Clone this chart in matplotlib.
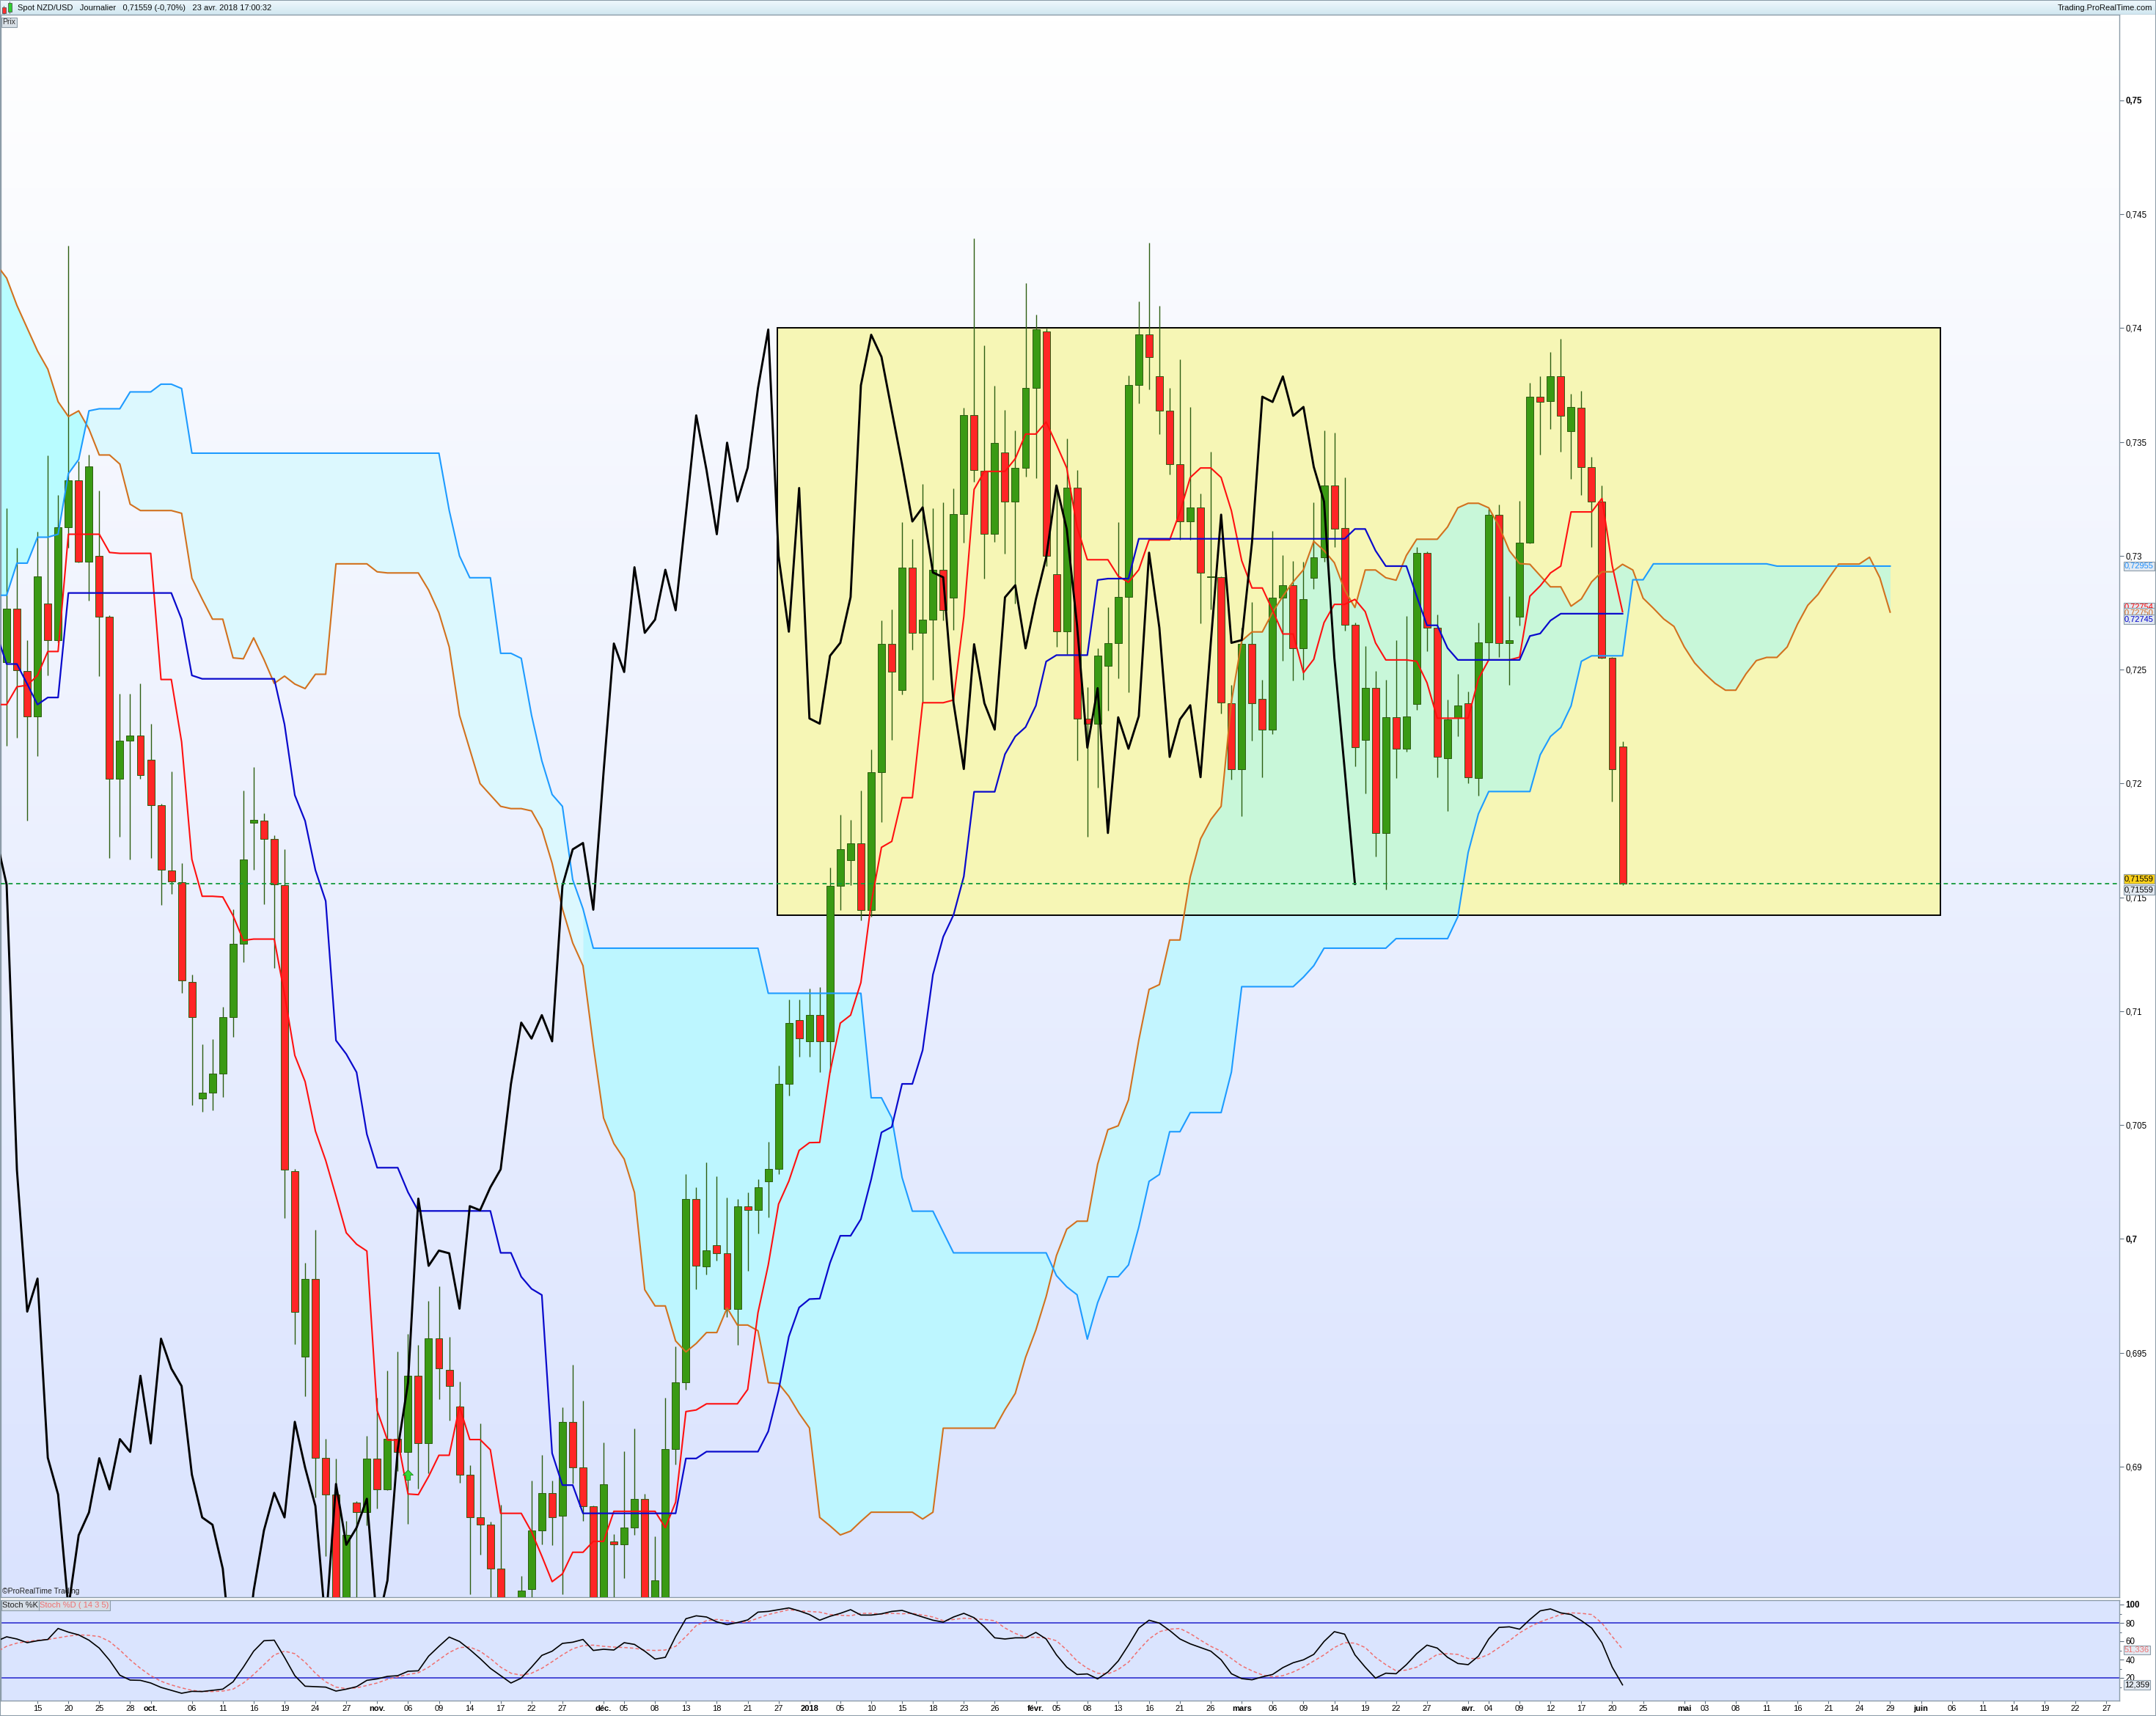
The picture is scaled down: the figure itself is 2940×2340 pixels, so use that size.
import numpy as np
import pandas as pd
import matplotlib
matplotlib.use("Agg")
import matplotlib.pyplot as plt
from matplotlib.patches import Rectangle
from matplotlib.path import Path
from matplotlib.transforms import blended_transform_factory
from matplotlib import font_manager

names = {f.name for f in font_manager.fontManager.ttflist}
NARROW = 'Liberation Sans Narrow' if 'Liberation Sans Narrow' in names else 'Liberation Sans'
plt.rcParams['font.family'] = ['Liberation Sans', 'DejaVu Sans']

# ---------------- data ----------------
trading_days = pd.bdate_range('2017-09-11', '2018-06-29')
trading_days = trading_days[~trading_days.isin(pd.to_datetime(['2017-12-25', '2018-01-01']))]
first_candle = '2017-09-12'

open_ = [0.72532, 0.72768, 0.72495, 0.72295, 0.72790, 0.72629, 0.73124, 0.73333, 0.72974, 0.72999,
         0.72734, 0.72021, 0.72187, 0.72212, 0.72106, 0.71905, 0.71617, 0.71566, 0.71130, 0.70617,
         0.70641, 0.70726, 0.70973, 0.71295, 0.71828, 0.71836, 0.71756, 0.71554, 0.70299, 0.69482,
         0.69826, 0.69039, 0.68878, 0.68380, 0.68843, 0.68799, 0.69037, 0.68900, 0.69121, 0.69065,
         0.69399, 0.69102, 0.69562, 0.69426, 0.69264, 0.68965, 0.68777, 0.68745, 0.68552, 0.68100,
         0.68050, 0.68462, 0.68720, 0.68885, 0.68784, 0.69197, 0.68996, 0.68827, 0.68300, 0.68672,
         0.68657, 0.68732, 0.68859, 0.68320, 0.68400, 0.69077, 0.69369, 0.70177, 0.69879, 0.69973,
         0.69937, 0.69694, 0.70144, 0.70126, 0.70254, 0.70306, 0.70681, 0.70960, 0.70868, 0.70983,
         0.70868, 0.71550, 0.71665, 0.71739, 0.71446, 0.72051, 0.72615, 0.72409, 0.72950, 0.72662,
         0.72720, 0.72939, 0.72815, 0.73185, 0.73617, 0.73374, 0.73095, 0.73453, 0.73239, 0.73387,
         0.73736, 0.73987, 0.72921, 0.72667, 0.73298, 0.72286, 0.72263, 0.72516, 0.72618, 0.72819,
         0.73749, 0.73971, 0.73788, 0.73637, 0.73402, 0.73152, 0.73213, 0.72911, 0.72906, 0.72353,
         0.72064, 0.72612, 0.72371, 0.72237, 0.72818, 0.72871, 0.72594, 0.72904, 0.72993, 0.73309,
         0.73121, 0.72696, 0.72192, 0.72419, 0.71783, 0.72291, 0.72153, 0.72350, 0.73014, 0.72684,
         0.72112, 0.72287, 0.72353, 0.72023, 0.72621, 0.73181, 0.72618, 0.72734, 0.73059, 0.73699,
         0.73681, 0.73788, 0.73547, 0.73651, 0.73391, 0.73238, 0.72552, 0.72162]
high_ = [0.73210, 0.73035, 0.72629, 0.73107, 0.73441, 0.73266, 0.74361, 0.73415, 0.73443, 0.73287,
         0.72740, 0.72394, 0.72394, 0.72441, 0.72263, 0.71910, 0.72052, 0.71651, 0.71160, 0.70856,
         0.70878, 0.71019, 0.71448, 0.71970, 0.72072, 0.71871, 0.71773, 0.71713, 0.70309, 0.69896,
         0.70041, 0.69121, 0.69037, 0.68763, 0.68850, 0.69135, 0.69302, 0.69423, 0.69504, 0.69584,
         0.69534, 0.69729, 0.69793, 0.69571, 0.69372, 0.69005, 0.69189, 0.68757, 0.68832, 0.68350,
         0.68520, 0.68939, 0.69051, 0.68939, 0.69260, 0.69449, 0.69291, 0.68830, 0.69107, 0.68705,
         0.69069, 0.69167, 0.68882, 0.68694, 0.69302, 0.69527, 0.70284, 0.70228, 0.70336, 0.70276,
         0.70183, 0.70174, 0.70204, 0.70264, 0.70426, 0.70763, 0.71050, 0.71050, 0.71100, 0.71105,
         0.71632, 0.71864, 0.71842, 0.71969, 0.72150, 0.72717, 0.72766, 0.73147, 0.73073, 0.73315,
         0.73210, 0.73234, 0.73297, 0.73650, 0.74393, 0.73925, 0.73747, 0.73640, 0.73552, 0.74199,
         0.74059, 0.73998, 0.73308, 0.73514, 0.73377, 0.72424, 0.72594, 0.72774, 0.73147, 0.73793,
         0.74117, 0.74376, 0.74097, 0.73736, 0.73864, 0.73653, 0.73275, 0.73456, 0.72910, 0.72434,
         0.72684, 0.72796, 0.72457, 0.73109, 0.73002, 0.72979, 0.72975, 0.73234, 0.73552, 0.73542,
         0.73345, 0.72707, 0.72603, 0.72493, 0.72457, 0.72630, 0.72737, 0.73038, 0.73020, 0.72743,
         0.72368, 0.72480, 0.72403, 0.72707, 0.73207, 0.73225, 0.72823, 0.73243, 0.73761, 0.73788,
         0.73895, 0.73954, 0.73711, 0.73726, 0.73434, 0.73309, 0.72555, 0.72185]
low_ = [0.72167, 0.72201, 0.71836, 0.72121, 0.72475, 0.72620, 0.73035, 0.72970, 0.72802, 0.72471,
        0.71674, 0.71767, 0.71667, 0.72021, 0.71674, 0.71466, 0.71516, 0.71080, 0.70587, 0.70559,
        0.70565, 0.70623, 0.70887, 0.71215, 0.71620, 0.71469, 0.71189, 0.70092, 0.69538, 0.69309,
        0.68864, 0.68608, 0.68300, 0.68300, 0.68350, 0.68743, 0.68815, 0.68897, 0.68980, 0.68749,
        0.68904, 0.68972, 0.69297, 0.69204, 0.68930, 0.68439, 0.68612, 0.68350, 0.67900, 0.67800,
        0.67950, 0.68300, 0.68660, 0.68654, 0.68439, 0.68927, 0.68762, 0.68150, 0.68250, 0.68400,
        0.68510, 0.68699, 0.68200, 0.68150, 0.68350, 0.69009, 0.69339, 0.69778, 0.69844, 0.69904,
        0.69658, 0.69534, 0.69859, 0.70024, 0.70096, 0.70284, 0.70630, 0.70800, 0.70800, 0.70733,
        0.70733, 0.71446, 0.71554, 0.71400, 0.71414, 0.71830, 0.72191, 0.72391, 0.72589, 0.72355,
        0.72457, 0.72717, 0.72676, 0.73059, 0.73325, 0.72901, 0.73062, 0.73009, 0.72791, 0.73349,
        0.73341, 0.72955, 0.72602, 0.72569, 0.72101, 0.71767, 0.71981, 0.72319, 0.72462, 0.72401,
        0.73670, 0.73732, 0.73533, 0.73358, 0.73070, 0.73070, 0.72704, 0.72766, 0.72309, 0.72019,
        0.71858, 0.72189, 0.72028, 0.72216, 0.72541, 0.72452, 0.72457, 0.72855, 0.72975, 0.73038,
        0.72671, 0.72076, 0.71957, 0.71680, 0.71533, 0.72023, 0.72141, 0.72323, 0.72582, 0.72028,
        0.71880, 0.72207, 0.72001, 0.71948, 0.72546, 0.72555, 0.72434, 0.72695, 0.73056, 0.73445,
        0.73556, 0.73458, 0.73338, 0.73266, 0.73038, 0.72550, 0.71921, 0.71555]
close_ = [0.72768, 0.72498, 0.72295, 0.72911, 0.72629, 0.73124, 0.73333, 0.72974, 0.73392, 0.72734,
          0.72021, 0.72187, 0.72212, 0.72036, 0.71905, 0.71620, 0.71570, 0.71134, 0.70975, 0.70641,
          0.70726, 0.70973, 0.71295, 0.71667, 0.71839, 0.71758, 0.71556, 0.70303, 0.69681, 0.69826,
          0.69039, 0.68878, 0.68380, 0.68699, 0.68799, 0.69037, 0.68900, 0.69121, 0.69065, 0.69399,
          0.69102, 0.69562, 0.69431, 0.69354, 0.68965, 0.68777, 0.68745, 0.68552, 0.68100, 0.68050,
          0.68455, 0.68720, 0.68885, 0.68777, 0.69197, 0.68996, 0.68827, 0.68300, 0.68924, 0.68657,
          0.68732, 0.68859, 0.68300, 0.68500, 0.69077, 0.69369, 0.70177, 0.69882, 0.69949, 0.69937,
          0.69694, 0.70144, 0.70126, 0.70227, 0.70306, 0.70681, 0.70950, 0.70880, 0.70983, 0.70868,
          0.71550, 0.71711, 0.71739, 0.71446, 0.72051, 0.72615, 0.72490, 0.72950, 0.72662, 0.72720,
          0.72939, 0.72761, 0.73185, 0.73617, 0.73377, 0.73095, 0.73497, 0.73239, 0.73387, 0.73736,
          0.73994, 0.72999, 0.72667, 0.73298, 0.72286, 0.72263, 0.72561, 0.72618, 0.72819, 0.73749,
          0.73971, 0.73874, 0.73637, 0.73402, 0.73151, 0.73213, 0.72927, 0.72906, 0.72355, 0.72064,
          0.72612, 0.72353, 0.72237, 0.72818, 0.72871, 0.72594, 0.72809, 0.72993, 0.73309, 0.73118,
          0.72696, 0.72158, 0.72419, 0.71783, 0.72291, 0.72153, 0.72296, 0.73014, 0.72684, 0.72117,
          0.72282, 0.72344, 0.72028, 0.72621, 0.73181, 0.72618, 0.72630, 0.73059, 0.73699, 0.73676,
          0.73788, 0.73615, 0.73654, 0.73391, 0.73238, 0.72552, 0.72064, 0.71559]

# Ichimoku (values per trading day, starting 2017-09-11)
tenkan = [0.72347, 0.72347, 0.72425, 0.72432, 0.72475, 0.72580, 0.72580, 0.73095, 0.73095, 0.73095,
          0.73095, 0.73015, 0.73011, 0.73011, 0.73011, 0.73011, 0.72457, 0.72457, 0.72183, 0.71667,
          0.71505, 0.71505, 0.71502, 0.71420, 0.71311, 0.71317, 0.71317, 0.71317, 0.71074, 0.70806,
          0.70691, 0.70474, 0.70345, 0.70188, 0.70027, 0.69977, 0.69947, 0.69246, 0.69117, 0.69117,
          0.68880, 0.68877, 0.68957, 0.69050, 0.69050, 0.69264, 0.69119, 0.69119, 0.69074, 0.68795,
          0.68795, 0.68795, 0.68714, 0.68607, 0.68495, 0.68529, 0.68624, 0.68624, 0.68672, 0.68672,
          0.68804, 0.68804, 0.68804, 0.68804, 0.68804, 0.68732, 0.68844, 0.69242, 0.69249, 0.69276,
          0.69276, 0.69276, 0.69276, 0.69339, 0.69676, 0.69886, 0.70153, 0.70254, 0.70389, 0.70423,
          0.70424, 0.70733, 0.70948, 0.70983, 0.71126, 0.71475, 0.71720, 0.71746, 0.71938, 0.71938,
          0.72355, 0.72355, 0.72355, 0.72367, 0.72733, 0.73292, 0.73371, 0.73371, 0.73371, 0.73427,
          0.73535, 0.73535, 0.73588, 0.73489, 0.73386, 0.73128, 0.72983, 0.72983, 0.72983, 0.72911,
          0.72884, 0.72939, 0.73070, 0.73070, 0.73070, 0.73193, 0.73344, 0.73386, 0.73386, 0.73344,
          0.73198, 0.72979, 0.72859, 0.72859, 0.72761, 0.72657, 0.72657, 0.72487, 0.72546, 0.72707,
          0.72787, 0.72787, 0.72809, 0.72755, 0.72618, 0.72543, 0.72543, 0.72543, 0.72537, 0.72443,
          0.72287, 0.72287, 0.72287, 0.72287, 0.72460, 0.72543, 0.72543, 0.72543, 0.72555, 0.72823,
          0.72868, 0.72925, 0.72955, 0.73193, 0.73193, 0.73193, 0.73252, 0.72957, 0.72755]
kijun = [0.72660, 0.72525, 0.72525, 0.72437, 0.72347, 0.72378, 0.72378, 0.72837, 0.72837, 0.72837,
         0.72837, 0.72837, 0.72837, 0.72837, 0.72837, 0.72837, 0.72837, 0.72837, 0.72722, 0.72475,
         0.72460, 0.72460, 0.72460, 0.72460, 0.72460, 0.72460, 0.72460, 0.72460, 0.72260, 0.71949,
         0.71836, 0.71620, 0.71484, 0.70872, 0.70812, 0.70732, 0.70460, 0.70313, 0.70313, 0.70313,
         0.70205, 0.70123, 0.70123, 0.70123, 0.70123, 0.70123, 0.70123, 0.70123, 0.70123, 0.69939,
         0.69939, 0.69834, 0.69781, 0.69754, 0.69059, 0.68919, 0.68919, 0.68795, 0.68795, 0.68795,
         0.68795, 0.68795, 0.68795, 0.68795, 0.68795, 0.68795, 0.68795, 0.69036, 0.69036, 0.69066,
         0.69066, 0.69066, 0.69066, 0.69066, 0.69066, 0.69155, 0.69335, 0.69571, 0.69699, 0.69736,
         0.69738, 0.69895, 0.70014, 0.70014, 0.70087, 0.70262, 0.70468, 0.70492, 0.70681, 0.70681,
         0.70829, 0.71161, 0.71327, 0.71423, 0.71592, 0.71964, 0.71964, 0.71964, 0.72129, 0.72207,
         0.72248, 0.72342, 0.72536, 0.72564, 0.72564, 0.72564, 0.72564, 0.72894, 0.72900, 0.72900,
         0.72900, 0.73075, 0.73075, 0.73075, 0.73075, 0.73075, 0.73075, 0.73075, 0.73075, 0.73075,
         0.73075, 0.73075, 0.73075, 0.73075, 0.73075, 0.73075, 0.73075, 0.73075, 0.73075, 0.73075,
         0.73075, 0.73075, 0.73118, 0.73118, 0.73023, 0.72955, 0.72955, 0.72955, 0.72823, 0.72695,
         0.72695, 0.72595, 0.72543, 0.72543, 0.72543, 0.72543, 0.72543, 0.72543, 0.72543, 0.72648,
         0.72659, 0.72716, 0.72746, 0.72746, 0.72746, 0.72746, 0.72746, 0.72746, 0.72746]
senkou_a = [0.74280, 0.74220, 0.74100, 0.74000, 0.73900, 0.73820, 0.73677, 0.73612, 0.73637, 0.73557,
            0.73443, 0.73443, 0.73403, 0.73227, 0.73199, 0.73199, 0.73199, 0.73199, 0.73187, 0.72902,
            0.72810, 0.72722, 0.72722, 0.72552, 0.72548, 0.72640, 0.72545, 0.72440, 0.72472, 0.72437,
            0.72417, 0.72480, 0.72480, 0.72965, 0.72965, 0.72965, 0.72965, 0.72930, 0.72925, 0.72925,
            0.72925, 0.72925, 0.72850, 0.72750, 0.72600, 0.72300, 0.72150, 0.72000, 0.71950, 0.71900,
            0.71890, 0.71890, 0.71880, 0.71800, 0.71650, 0.71450, 0.71300, 0.71200, 0.70850, 0.70531,
            0.70419, 0.70351, 0.70204, 0.69777, 0.69706, 0.69706, 0.69552, 0.69504, 0.69541, 0.69589,
            0.69589, 0.69697, 0.69622, 0.69622, 0.69597, 0.69369, 0.69365, 0.69309, 0.69234, 0.69170,
            0.68777, 0.68740, 0.68700, 0.68717, 0.68760, 0.68800, 0.68800, 0.68800, 0.68800, 0.68800,
            0.68770, 0.68800, 0.69169, 0.69169, 0.69169, 0.69169, 0.69169, 0.69169, 0.69250, 0.69322,
            0.69480, 0.69600, 0.69747, 0.69927, 0.70043, 0.70078, 0.70078, 0.70328, 0.70480, 0.70497,
            0.70611, 0.70873, 0.71096, 0.71117, 0.71313, 0.71313, 0.71589, 0.71757, 0.71842, 0.71900,
            0.72359, 0.72627, 0.72666, 0.72666, 0.72752, 0.72823, 0.72886, 0.72939, 0.73064, 0.73023,
            0.72970, 0.72850, 0.72773, 0.72938, 0.72938, 0.72904, 0.72893, 0.73002, 0.73073, 0.73073,
            0.73073, 0.73127, 0.73211, 0.73231, 0.73231, 0.73211, 0.73131, 0.73023, 0.72966, 0.72963,
            0.72913, 0.72864, 0.72864, 0.72779, 0.72811, 0.72886, 0.72930, 0.72930, 0.72963, 0.72938,
            0.72814, 0.72770, 0.72723, 0.72690, 0.72600, 0.72530, 0.72482, 0.72440, 0.72410, 0.72410,
            0.72482, 0.72540, 0.72554, 0.72554, 0.72600, 0.72700, 0.72783, 0.72831, 0.72900, 0.72964,
            0.72964, 0.72964, 0.72994, 0.72904, 0.72753]
senkou_b = [0.72827, 0.72827, 0.72968, 0.72968, 0.73082, 0.73082, 0.73095, 0.73361, 0.73423, 0.73637,
            0.73646, 0.73646, 0.73646, 0.73720, 0.73720, 0.73720, 0.73754, 0.73754, 0.73735, 0.73451,
            0.73451, 0.73451, 0.73451, 0.73451, 0.73451, 0.73451, 0.73451, 0.73451, 0.73451, 0.73451,
            0.73451, 0.73451, 0.73451, 0.73451, 0.73451, 0.73451, 0.73451, 0.73451, 0.73451, 0.73451,
            0.73451, 0.73451, 0.73451, 0.73451, 0.73200, 0.73000, 0.72904, 0.72904, 0.72904, 0.72572,
            0.72572, 0.72550, 0.72300, 0.72100, 0.71952, 0.71900, 0.71578, 0.71450, 0.71277, 0.71277,
            0.71277, 0.71277, 0.71277, 0.71277, 0.71277, 0.71277, 0.71277, 0.71277, 0.71277, 0.71277,
            0.71277, 0.71277, 0.71277, 0.71277, 0.71277, 0.71079, 0.71079, 0.71079, 0.71079, 0.71079,
            0.71079, 0.71079, 0.71079, 0.71079, 0.71079, 0.70620, 0.70620, 0.70532, 0.70270, 0.70122,
            0.70122, 0.70122, 0.70030, 0.69939, 0.69939, 0.69939, 0.69939, 0.69939, 0.69939, 0.69939,
            0.69939, 0.69939, 0.69939, 0.69839, 0.69790, 0.69755, 0.69560, 0.69720, 0.69834, 0.69834,
            0.69886, 0.70052, 0.70253, 0.70283, 0.70471, 0.70471, 0.70555, 0.70555, 0.70555, 0.70555,
            0.70733, 0.71108, 0.71108, 0.71108, 0.71108, 0.71108, 0.71108, 0.71150, 0.71200, 0.71277,
            0.71277, 0.71277, 0.71277, 0.71277, 0.71277, 0.71277, 0.71319, 0.71319, 0.71319, 0.71319,
            0.71319, 0.71319, 0.71415, 0.71697, 0.71867, 0.71965, 0.71965, 0.71965, 0.71965, 0.71965,
            0.72126, 0.72207, 0.72246, 0.72341, 0.72537, 0.72561, 0.72561, 0.72561, 0.72561, 0.72895,
            0.72895, 0.72965, 0.72965, 0.72965, 0.72965, 0.72965, 0.72965, 0.72965, 0.72965, 0.72965,
            0.72965, 0.72965, 0.72965, 0.72955, 0.72955, 0.72955, 0.72955, 0.72955, 0.72955, 0.72955,
            0.72955, 0.72955, 0.72955, 0.72955, 0.72955]
# cloud shading sections as seen on the chart: (first bar, last bar, shade)
cloud_sections = [(0, 9, 'strong_top'), (9, 57, 'light'), (57, 103, 'strong'), (103, 184, 'medium')]
cloud_colors = {'strong_top': '#B8FCFF', 'light': '#DCF8FE', 'strong': '#BDF6FF', 'medium': '#C3F5FF'}
cloud_in_box = '#C8F7D9'

stoch_k = [60.0, 64.8, 62.4, 58.4, 60.5, 61.9, 73.9, 69.9, 66.9, 61.1,
           52.5, 39.2, 22.9, 17.6, 17.3, 14.4, 9.6, 6.4, 3.2, 5.3,
           5.1, 6.4, 7.7, 15.7, 31.7, 49.1, 60.5, 61.1, 42.4, 22.4,
           10.9, 10.4, 9.9, 5.6, 7.7, 10.4, 17.3, 18.9, 21.6, 22.4,
           27.2, 27.7, 43.7, 54.4, 64.5, 59.7, 50.9, 41.1, 30.4, 22.4,
           14.4, 19.7, 31.7, 44.5, 49.1, 57.6, 58.9, 61.9, 49.9, 51.2,
           50.4, 58.4, 56.5, 49.1, 40.5, 42.4, 65.1, 84.5, 87.7, 86.4,
           81.1, 78.1, 80.3, 83.2, 91.7, 92.5, 94.4, 96.3, 93.1, 89.1,
           82.9, 87.2, 90.4, 94.4, 88.5, 88.5, 89.9, 92.5, 93.6, 89.9,
           86.4, 82.9, 80.8, 86.4, 90.4, 85.6, 75.7, 63.7, 62.4, 63.7,
           63.7, 69.6, 62.4, 45.1, 31.7, 23.7, 24.3, 18.9, 26.4, 38.4,
           55.7, 74.4, 82.9, 79.7, 71.7, 62.4, 57.1, 53.1, 49.1, 39.7,
           24.5, 19.2, 17.9, 21.1, 23.7, 31.2, 36.5, 39.7, 45.6, 59.7,
           70.4, 67.7, 45.1, 31.7, 19.7, 25.1, 24.5, 34.4, 46.4, 55.7,
           52.5, 42.4, 35.7, 34.4, 43.7, 62.4, 75.0, 75.7, 73.1, 83.7,
           93.1, 95.2, 90.9, 89.1, 82.4, 74.4, 58.4, 31.7, 12.359]
stoch_d = [48.0, 54.5, 57.9, 59.7, 61.1, 61.9, 63.7, 65.6, 66.9, 66.4,
           65.1, 59.7, 50.4, 39.7, 30.4, 22.4, 16.3, 12.3, 9.1, 6.4,
           5.1, 5.1, 5.6, 7.7, 14.4, 23.7, 34.4, 45.1, 49.1, 46.4,
           37.1, 25.1, 15.7, 9.9, 8.3, 9.1, 11.7, 14.4, 18.4, 21.1,
           23.7, 25.6, 31.7, 39.7, 47.7, 53.1, 53.6, 49.1, 41.1, 31.7,
           25.1, 22.9, 25.1, 30.4, 37.6, 45.1, 51.7, 55.2, 55.7, 54.4,
           53.6, 53.1, 52.3, 50.4, 49.9, 50.4, 54.4, 65.1, 77.1, 82.4,
           83.7, 82.4, 80.3, 81.1, 85.1, 89.1, 91.7, 94.4, 93.1, 92.4,
           91.7, 89.1, 88.3, 87.7, 90.4, 90.4, 89.6, 90.4, 89.9, 90.4,
           88.5, 86.4, 82.4, 83.7, 85.1, 84.5, 83.7, 82.4, 74.4, 68.5,
           64.3, 64.3, 63.7, 60.5, 50.4, 38.4, 30.4, 25.1, 24.3, 29.1,
           37.1, 50.4, 62.4, 70.4, 73.1, 73.9, 68.3, 61.1, 54.4, 49.1,
           41.1, 33.1, 27.7, 23.2, 21.1, 22.4, 26.4, 31.7, 38.4, 45.1,
           53.1, 58.4, 57.9, 53.1, 42.4, 34.4, 27.7, 28.5, 31.7, 38.4,
           45.6, 46.4, 45.6, 41.1, 41.1, 45.6, 53.1, 60.5, 69.1, 75.7,
           81.1, 85.1, 89.1, 90.9, 90.4, 89.1, 79.7, 65.1, 51.336]

last_price = 0.71559
box_low, box_high = 0.71423, 0.74000
box_start, box_end = 75.85, 188.86
arrow_bar, arrow_price = 40, 0.68966

tick_dates = ['2017-09-15', '2017-09-20', '2017-09-25', '2017-09-28', '2017-10-02', '2017-10-06',
              '2017-10-11', '2017-10-16', '2017-10-19', '2017-10-24', '2017-10-27', '2017-11-01',
              '2017-11-06', '2017-11-09', '2017-11-14', '2017-11-17', '2017-11-22', '2017-11-27',
              '2017-12-01', '2017-12-05', '2017-12-08', '2017-12-13', '2017-12-18', '2017-12-21',
              '2017-12-27', '2018-01-02', '2018-01-05', '2018-01-10', '2018-01-15', '2018-01-18',
              '2018-01-23', '2018-01-26', '2018-02-01', '2018-02-05', '2018-02-08', '2018-02-13',
              '2018-02-16', '2018-02-21', '2018-02-26', '2018-03-01', '2018-03-06', '2018-03-09',
              '2018-03-14', '2018-03-19', '2018-03-22', '2018-03-27', '2018-04-02', '2018-04-04',
              '2018-04-09', '2018-04-12', '2018-04-17', '2018-04-20', '2018-04-25', '2018-05-01',
              '2018-05-03', '2018-05-08', '2018-05-11', '2018-05-16', '2018-05-21', '2018-05-24',
              '2018-05-29', '2018-06-01', '2018-06-06', '2018-06-11', '2018-06-14', '2018-06-19',
              '2018-06-22', '2018-06-27']
tick_text = ['15', '20', '25', '28', 'oct.', '06', '11', '16', '19', '24', '27', 'nov.',
             '06', '09', '14', '17', '22', '27', 'déc.', '05', '08', '13', '18', '21',
             '27', '2018', '05', '10', '15', '18', '23', '26', 'févr.', '05', '08', '13',
             '16', '21', '26', 'mars', '06', '09', '14', '19', '22', '27', 'avr.', '04',
             '09', '12', '17', '20', '25', 'mai', '03', '08', '11', '16', '21', '24',
             '29', 'juin', '06', '11', '14', '19', '22', '27']
bold_ticks = {'oct.', 'nov.', 'déc.', '2018', 'févr.', 'mars', 'avr.', 'mai', 'juin'}
price_ticks = [0.69, 0.695, 0.70, 0.705, 0.71, 0.715, 0.72, 0.725, 0.73, 0.735, 0.74, 0.745, 0.75]

# ---------------- figure ----------------
W, H = 2940, 2340
fig = plt.figure(figsize=(W / 100, H / 100), dpi=100, facecolor='white')

def fx(px):
    return px / W

def fy(py):
    return 1 - py / H

ax = fig.add_axes([fx(1), fy(2178), fx(2890 - 1), (2178 - 20) / H])
axs = fig.add_axes([fx(1), fy(2319), fx(2890 - 1), (2319 - 2182) / H])
axh = fig.add_axes([0, fy(20), 1, 20 / H])

XMIN, XMAX = 0.427, 206.27
YMIN, YMAX = 0.684267, 0.753768

# background gradient of main panel
g = np.linspace(0, 1, 256)[:, None]
top = np.array([255, 255, 255]) / 255
bot = np.array([218, 227, 254]) / 255
grad = top[None, None, :] * (1 - g[..., None]) + bot[None, None, :] * g[..., None]
grad = np.repeat(grad, 2, axis=1)
ax.imshow(grad, extent=[0, 1, 0, 1], transform=ax.transAxes, aspect='auto', zorder=0)
axs.set_facecolor('#DAE4FE')

idx0 = trading_days.get_loc(pd.Timestamp(first_candle))
xc = np.arange(len(open_)) + idx0
o = np.array(open_); h = np.array(high_); l = np.array(low_); c = np.array(close_)

# cloud, then the drawn box over it, then the cloud again inside the box
xk = np.arange(len(senkou_a))
sa = np.array(senkou_a); sb = np.array(senkou_b)
for s, e, shade in cloud_sections:
    seg = slice(s, e + 1)
    ax.fill_between(xk[seg], sa[seg], sb[seg], color=cloud_colors[shade], lw=0, zorder=1.5,
                    interpolate=True)
box_fill = Rectangle((box_start, box_low), box_end - box_start, box_high - box_low,
                     facecolor='#F6F6B5', edgecolor='none', zorder=2)
ax.add_patch(box_fill)
inner = ax.fill_between(xk, sa, sb, color=cloud_in_box, lw=0, zorder=2.5, interpolate=True)
inner.set_clip_path(box_fill)
ax.add_patch(Rectangle((box_start, box_low), box_end - box_start, box_high - box_low,
                       facecolor='none', edgecolor='black', lw=1.4, zorder=3))
ax.plot(xk, sa, color='#D2711E', lw=1.5, zorder=6)
ax.plot(xk, sb, color='#1E9BFF', lw=1.5, zorder=6)

# candles
wick = '#2D5E12'
ax.vlines(xc, l, h, color=wick, lw=1.0, zorder=4)
up = c >= o
bb = np.minimum(o, c)
bh = np.maximum(np.abs(c - o), 0.00005)
ax.bar(xc[up], bh[up], bottom=bb[up], width=0.71, color='#3A9A14', edgecolor=wick, lw=0.7, zorder=5)
ax.bar(xc[~up], bh[~up], bottom=bb[~up], width=0.71, color='#FF2626', edgecolor=wick, lw=0.7, zorder=5)

# lines
xt = np.arange(len(tenkan))
ax.plot(xt, tenkan, color='#FF1010', lw=1.5, zorder=7)
ax.plot(xt, kijun, color='#0A0ACC', lw=1.6, zorder=7)
mask = xc >= 26
ax.plot(xc[mask] - 26, c[mask], color='black', lw=2.1, zorder=7)
ax.axhline(last_price, color='#129A3A', lw=1.3, dashes=(3.2, 2.6), zorder=8)

arrow = Path([(0, 1), (-1, 0), (-0.45, 0), (-0.45, -1), (0.45, -1), (0.45, 0), (1, 0), (0, 1)],
             [1, 2, 2, 2, 2, 2, 2, 79])
ax.plot([arrow_bar], [arrow_price], marker=arrow, ms=10, color='#36D936', mec='#158A15', mew=0.6, zorder=9)

ax.set_xlim(XMIN, XMAX)
ax.set_ylim(YMIN, YMAX)
ax.yaxis.tick_right()
ax.set_yticks(price_ticks)
ax.set_yticklabels([('%g' % v).replace('.', ',') for v in price_ticks])
for t, v in zip(ax.get_yticklabels(), price_ticks):
    t.set_fontsize(8.3)
    if abs(v - 0.75) < 1e-9 or abs(v - 0.70) < 1e-9:
        t.set_fontweight('bold')
ax.tick_params(axis='y', direction='out', length=4, width=0.8, color='#607080', pad=2)
ax.tick_params(axis='x', bottom=False, labelbottom=False)
for sp in ax.spines.values():
    sp.set_color('#8C9CA8'); sp.set_linewidth(1.0)

# stochastic panel
xs = np.arange(len(stoch_k))
axs.axhline(80, color='#2222CC', lw=1.1, zorder=2)
axs.axhline(20, color='#2222CC', lw=1.1, zorder=2)
axs.plot(xs, stoch_d, color='#F07070', lw=1.1, dashes=(3, 2), zorder=3)
axs.plot(xs, stoch_k, color='black', lw=1.2, zorder=4)
axs.set_xlim(XMIN, XMAX)
axs.set_ylim(-4.8, 104.8)
axs.yaxis.tick_right()
axs.set_yticks([20, 40, 60, 80, 100])
axs.set_yticklabels(['20', '40', '60', '80', '100'])
axs.set_yticks([10, 30, 50, 70, 90], minor=True)
for t in axs.get_yticklabels():
    t.set_fontsize(8.3)
axs.get_yticklabels()[-1].set_fontweight('bold')
axs.tick_params(axis='y', which='major', direction='out', length=4, width=0.8, color='#607080', pad=2)
axs.tick_params(axis='y', which='minor', direction='out', length=2.5, width=0.8, color='#607080')
tick_pos = [trading_days.get_loc(pd.Timestamp(d)) for d in tick_dates]
axs.set_xticks(tick_pos)
axs.set_xticklabels(tick_text)
for t in axs.get_xticklabels():
    t.set_fontfamily(NARROW)
    t.set_fontsize(8)
    if t.get_text() in bold_ticks:
        t.set_fontweight('bold')
axs.tick_params(axis='x', direction='out', length=3, width=0.8, color='#607080', pad=1.5)
for sp in axs.spines.values():
    sp.set_color('#8C9CA8'); sp.set_linewidth(1.0)

# value boxes on right axis
trm = blended_transform_factory(ax.transAxes, ax.transData)
trs = blended_transform_factory(axs.transAxes, axs.transData)

def vbox(axis, tr, y, text, tc, fc='#E2E9F1', z=20):
    axis.text(1.0024, y, text, transform=tr, ha='left', va='center', fontsize=8, color=tc,
              bbox=dict(boxstyle='square,pad=0.12', fc=fc, ec='#8C9CA8', lw=0.8), clip_on=False, zorder=z)

vbox(ax, trm, 0.72955, '0,72955', '#1E90FF')
vbox(ax, trm, 0.72775, '0,72754', '#FF0000', z=21)
vbox(ax, trm, 0.72750, '0,72750', '#D2691E', z=22)
vbox(ax, trm, 0.72722, '0,72745', '#0000CC', z=23)
vbox(ax, trm, 0.71581, '0,71559', 'black', fc='#FFD21A', z=24)
vbox(ax, trm, 0.71533, '0,71559', 'black', z=23)
vbox(axs, trs, 50.4, '51,336', '#F07070')
vbox(axs, trs, 12.4, '12,359', 'black')

# panel labels
ax.text(0.0008, 0.9975, 'Prix', transform=ax.transAxes, ha='left', va='top', fontsize=7.5, color='#303030',
        family=NARROW, bbox=dict(boxstyle='square,pad=0.15', fc='#D9E1E8', ec='#8C9CA8', lw=0.8), zorder=30)
ax.text(0.0008, 0.0012, '©ProRealTime Trading', transform=ax.transAxes, ha='left', va='bottom',
        fontsize=7.5, color='#202020', family=NARROW, zorder=30)
axs.text(0.0008, 0.985, 'Stoch %K', transform=axs.transAxes, ha='left', va='top', fontsize=8,
         color='#202020', family=NARROW,
         bbox=dict(boxstyle='square,pad=0.15', fc='#D5DDE6', ec='#8C9CA8', lw=0.8), zorder=30)
axs.text(0.0185, 0.985, 'Stoch %D ( 14 3 5)', transform=axs.transAxes, ha='left', va='top', fontsize=8,
         color='#F07070', family=NARROW,
         bbox=dict(boxstyle='square,pad=0.15', fc='#D5DDE6', ec='#8C9CA8', lw=0.8), zorder=30)

# header
hg = np.linspace(0, 1, 64)[:, None]
htop = np.array([240, 249, 253]) / 255
hbot = np.array([208, 230, 240]) / 255
hgrad = htop[None, None, :] * (1 - hg[..., None]) + hbot[None, None, :] * hg[..., None]
hgrad = np.repeat(hgrad, 2, axis=1)
axh.imshow(hgrad, extent=[0, W, 20, 0], aspect='auto', zorder=0)
axh.set_xlim(0, W); axh.set_ylim(20, 0)
axh.axis('off')
axh.add_patch(Rectangle((3, 10), 5, 8, fc='#FF3030', ec='#404040', lw=0.5, zorder=2))
axh.plot([5.5, 5.5], [8, 19], color='#404040', lw=0.5, zorder=1)
axh.add_patch(Rectangle((11, 4), 5, 12, fc='#30D030', ec='#404040', lw=0.5, zorder=2))
axh.plot([13.5, 13.5], [2, 18], color='#404040', lw=0.5, zorder=1)
axh.text(24, 11, 'Spot NZD/USD   Journalier   0,71559 (-0,70%)   23 avr. 2018 17:00:32',
         ha='left', va='center', fontsize=8, family=NARROW, color='#101010', zorder=3)
axh.text(2935, 11, 'Trading.ProRealTime.com', ha='right', va='center', fontsize=8, family=NARROW,
         color='#101010', zorder=3)
axh.plot([0, W], [19.5, 19.5], color='#8C9CA8', lw=1)

fig.patches.append(Rectangle((0, 0), 1, 1, transform=fig.transFigure, fill=False, ec='#8C9CA8', lw=1.5))

fig.savefig('out.png', dpi=100, facecolor='white')
